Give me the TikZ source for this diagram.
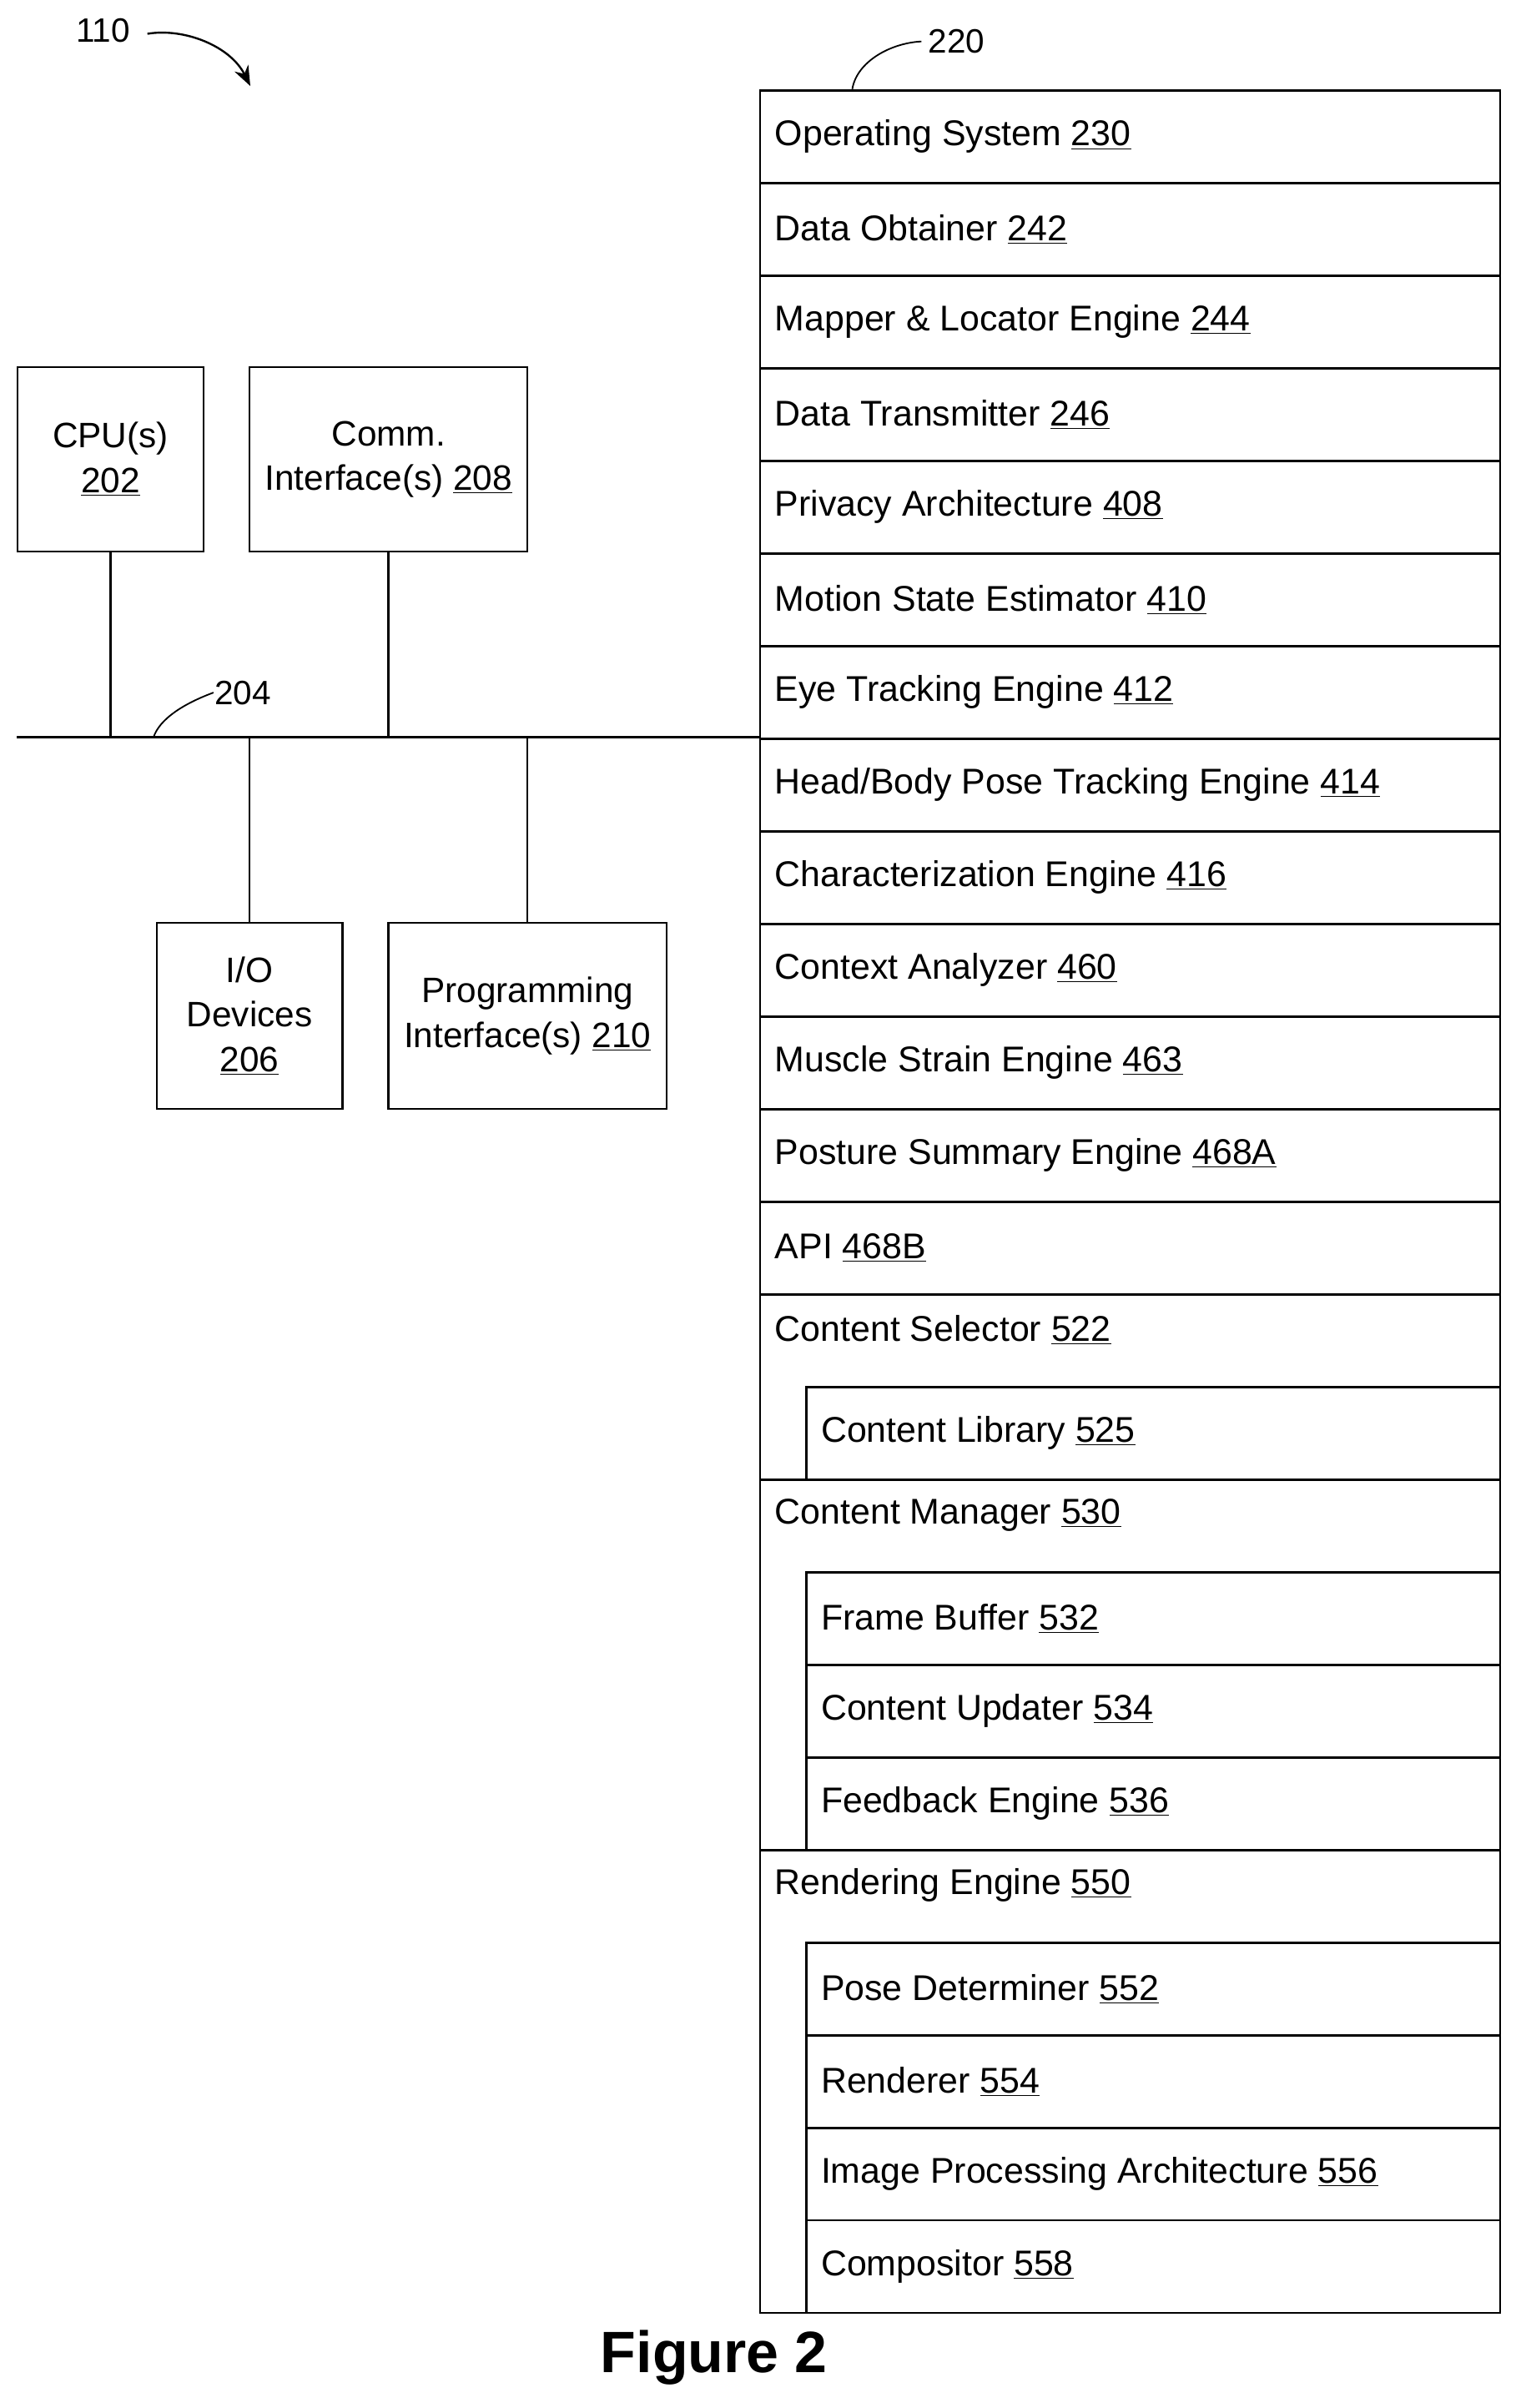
\documentclass[tikz,border=0pt]{standalone}
\usepackage{fontspec}
\setmainfont{Liberation Sans}
\usetikzlibrary{arrows.meta}
\begin{document}
\begin{tikzpicture}[x=1pt,y=-1pt,line width=1.3pt,
  lbl/.style={anchor=west,inner sep=0pt,font=\fontsize{23.3}{27}\selectfont},
  box/.style={draw,align=center,inner sep=0pt,font=\fontsize{23}{29}\selectfont},
  reflbl/.style={inner sep=0pt,font=\fontsize{22}{26}\selectfont}]
\useasboundingbox (0,0) rectangle (990,1568);
\def\p{60.3}
% top-level rows
\foreach \t [count=\k from 0] in {Operating System \underline{230},Data Obtainer \underline{242},Mapper \& Locator Engine \underline{244},Data Transmitter \underline{246},Privacy Architecture \underline{408},Motion State Estimator \underline{410},Eye Tracking Engine \underline{412},Head/Body Pose Tracking Engine \underline{414},Characterization Engine \underline{416},Context Analyzer \underline{460},Muscle Strain Engine \underline{463},Posture Summary Engine \underline{468A},API \underline{468B}}{
  \draw (495,59+\k*\p) rectangle (977,59+\k*\p+\p);
  \node[lbl] (r\k) at (504,59+\k*\p+30) {\t};
}
% groups
\draw (495,59+13*\p) rectangle (977,59+15*\p);
\node[lbl] (g1) at (504,59+13*\p+23) {Content Selector \underline{522}};
\draw (495,59+15*\p) rectangle (977,59+19*\p);
\node[lbl] (g2) at (504,59+15*\p+23) {Content Manager \underline{530}};
\draw (495,59+19*\p) rectangle (977,59+24*\p);
\node[lbl] (g3) at (504,59+19*\p+23) {Rendering Engine \underline{550}};
\foreach \t/\k in {Content Library \underline{525}/14,Frame Buffer \underline{532}/16,Content Updater \underline{534}/17,Feedback Engine \underline{536}/18,Pose Determiner \underline{552}/20,Renderer \underline{554}/21,Image Processing Architecture \underline{556}/22,Compositor \underline{558}/23}{
  \draw (525,59+\k*\p) rectangle (977,59+\k*\p+\p);
  \node[lbl] (s\k) at (534,59+\k*\p+30) {\t};
}
% left boxes
\node[box,minimum width=121pt,minimum height=120pt] (cpu) at (72,299) {CPU(s)\\\underline{202}};
\node[box,minimum width=181pt,minimum height=120pt] (comm) at (253,299) {Comm.\\Interface(s) \underline{208}};
\node[box,minimum width=121pt,minimum height=121pt] (io) at (162.5,661.5) {I/O\\Devices\\\underline{206}};
\node[box,minimum width=181pt,minimum height=121pt] (prog) at (343.5,661.5) {Programming\\Interface(s) \underline{210}};
\coordinate (busL) at (11,480);
\coordinate (busR) at (495,480);
\draw (busL) -- (busR);
\draw (cpu.south) -- (cpu.south |- busL);
\draw (comm.south) -- (comm.south |- busL);
\draw (io.north) -- (io.north |- busL);
\draw (prog.north) -- (prog.north |- busL);
% labels
\node[reflbl] (l204) at (158,451) {204};
\coordinate (c204) at (100,480);
\draw[line width=1pt] (c204) .. controls (104,468) and (120,458) .. (l204.west);
\node[reflbl] (l110) at (67,20) {110};
\coordinate (a110) at (163,56);
\coordinate (s110) at (96,22);
\draw[line width=1.3pt,-{Stealth[length=13pt,width=10pt]}] (s110) .. controls (120,18) and (150,30) .. (a110);
\node[reflbl] (l220) at (623,27) {220};
\coordinate (c220) at (555,58);
\draw[line width=1pt] (c220) .. controls (558,40) and (580,28) .. ([xshift=-4pt]l220.west);
\node[inner sep=0pt,font=\bfseries\fontsize{38}{42}\selectfont] (fig) at (465,1535) {Figure 2};
\end{tikzpicture}
\end{document}
